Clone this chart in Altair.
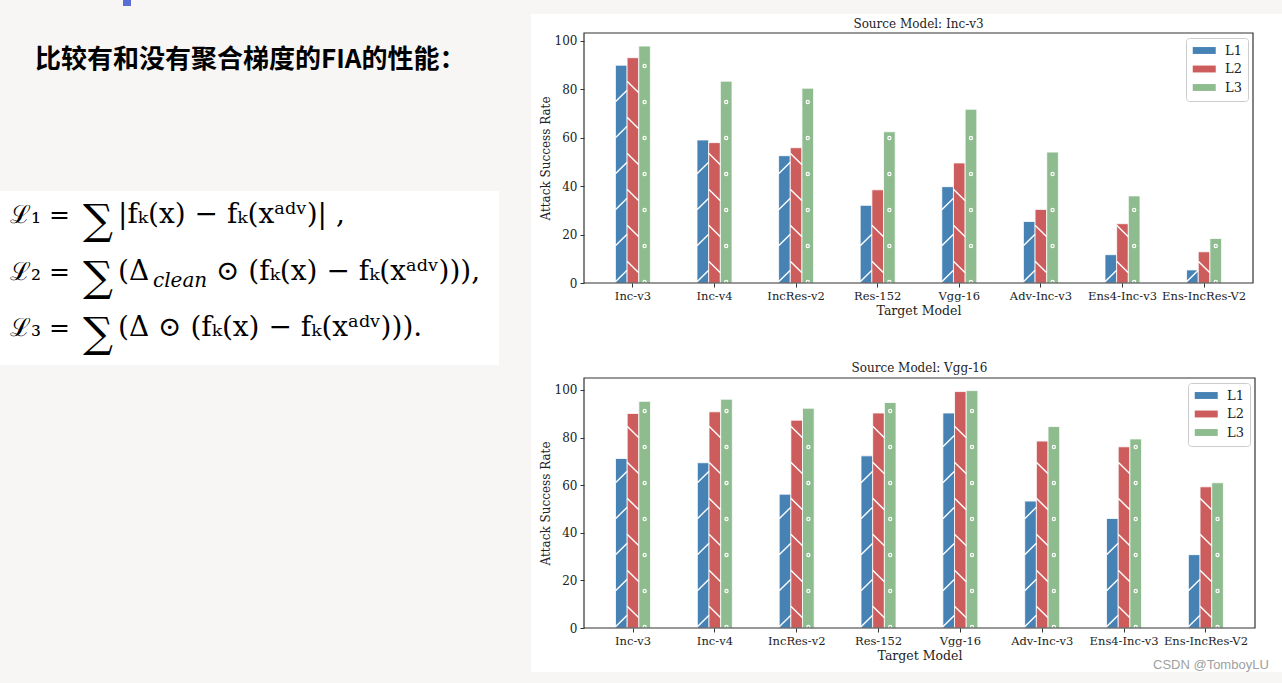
import altair as alt
import pandas as pd

# ---------------- data ----------------
targets = ["Inc-v3", "Inc-v4", "IncRes-v2", "Res-152", "Vgg-16",
           "Adv-Inc-v3", "Ens4-Inc-v3", "Ens-IncRes-V2"]
losses = ["L1", "L2", "L3"]

inc_l1 = [90.0, 59.1, 52.6, 32.1, 39.8, 25.4, 11.7, 5.4]
inc_l2 = [93.1, 58.0, 55.9, 38.5, 49.6, 30.4, 24.5, 12.9]
inc_l3 = [97.9, 83.4, 80.5, 62.5, 71.8, 54.1, 36.0, 18.4]

vgg_l1 = [71.2, 69.4, 56.2, 72.3, 90.3, 53.3, 46.0, 30.8]
vgg_l2 = [90.1, 90.8, 87.3, 90.3, 99.3, 78.5, 76.1, 59.3]
vgg_l3 = [95.2, 96.1, 92.3, 94.7, 99.7, 84.6, 79.4, 61.0]

y_ticks = [0, 20, 40, 60, 80, 100]
colors = ["#4682b4", "#cd5c5c", "#8fbc8f"]

titles = ["Source Model: Inc-v3", "Source Model: Vgg-16"]
heading = "比较有和没有聚合梯度的FIA的性能："
formula_lhs = ["ℒ₁ =", "ℒ₂ =", "ℒ₃ ="]
formula_sum = "∑"
formula_rhs = ["|fₖ(x)  −  fₖ(xᵃᵈᵛ)| ,", "(Δ", "(Δ ⊙ (fₖ(x)  −  fₖ(xᵃᵈᵛ)))."]
formula2_sub = "clean"
formula2_tail = "⊙ (fₖ(x)  −  fₖ(xᵃᵈᵛ))),"
watermark = "CSDN @TomboyLU"

BG = "#f7f6f4"
SERIF = "DejaVu Serif"
one = pd.DataFrame({"k": [0]})


def txt(s, x, y, size, font=SERIF, weight="normal", color="#000000",
        baseline="alphabetic", align="left", style="normal"):
    return alt.Chart(one).mark_text(
        text=s, font=font, fontSize=size, fontWeight=weight, color=color,
        baseline=baseline, align=align, fontStyle=style
    ).encode(x=alt.value(x), y=alt.value(y))


def box(x, x2, y, y2, color):
    return alt.Chart(one).mark_rect(color=color, strokeWidth=0).encode(
        x=alt.value(x), x2=alt.value(x2), y=alt.value(y), y2=alt.value(y2))


# ---------------- left-side content (page coords -> top plot coords) ----------------
OX, OY = 584, 33


def left_layers():
    L = lambda v: v - OX
    T = lambda v: v - OY
    lay = [
        box(L(123), L(131), T(0), T(6), "#5a6fd6"),
        txt(heading, L(35), T(60), 26, font="Noto Sans CJK SC", weight="bold",
            baseline="middle"),
        box(L(0), L(499), T(191), T(365), "#ffffff"),
    ]
    baselines = [223, 280, 336]
    for i in range(3):
        yb = baselines[i]
        lay.append(txt(formula_lhs[i], L(10), T(yb), 25))
        lay.append(txt(formula_sum, L(83), T(yb + 11), 42))
        lay.append(txt(formula_rhs[i], L(118), T(yb), 28))
    lay.append(txt(formula2_sub, L(153), T(baselines[1] + 7), 20, style="italic"))
    lay.append(txt(formula2_tail, L(216), T(baselines[1]), 28))
    return lay


# ---------------- bar panels ----------------
def hatch_rows(vals, loss, step, phase, half):
    rows = []
    for t, v in zip(targets, vals):
        y = phase
        while y + half <= v:
            rows.append({"Target": t, "Loss": loss, "Value": y})
            y += step
    return pd.DataFrame(rows)


def panel(title, l1, l2, l3, ymax, w, h, pre, post, title_y):
    rows = []
    for t, a, b, c in zip(targets, l1, l2, l3):
        rows += [{"Target": t, "Loss": "L1", "Value": a},
                 {"Target": t, "Loss": "L2", "Value": b},
                 {"Target": t, "Loss": "L3", "Value": c}]
    df = pd.DataFrame(rows)
    upx = ymax / h
    step = 36 * upx

    x_enc = alt.X("Target:N", scale=alt.Scale(domain=targets, paddingInner=0.571,
                                              paddingOuter=0.385),
                  axis=alt.Axis(title="Target Model", labelAngle=0, labelOverlap=False,
                                labelFont=SERIF, labelFontSize=11.5, labelColor="#222222",
                                titleFont=SERIF, titleFontSize=12.5,
                                titleFontWeight="normal", titleColor="#222222",
                                tickSize=4, tickColor="#333333", domain=False,
                                grid=False, labelPadding=3, titlePadding=3, zindex=1))
    y_enc = alt.Y("Value:Q", scale=alt.Scale(domain=[0, ymax], nice=False),
                  axis=alt.Axis(title="Attack Success Rate", values=y_ticks,
                                labelFont=SERIF, labelFontSize=12, labelColor="#222222",
                                titleFont=SERIF, titleFontSize=12,
                                titleFontWeight="normal", titleColor="#222222",
                                tickSize=4, tickColor="#333333", domain=False,
                                grid=False, labelPadding=3, titlePadding=2, zindex=1))
    xo = alt.XOffset("Loss:N", scale=alt.Scale(domain=losses, paddingInner=0,
                                                 paddingOuter=0))

    layers = list(pre)
    layers.append(txt(title, w / 2, title_y, 12, color="#222222", align="center",
                      baseline="middle"))
    bars = alt.Chart(df).mark_bar(stroke="white", strokeWidth=0.8).encode(
        x=x_enc, xOffset=xo, y=y_enc,
        color=alt.Color("Loss:N", scale=alt.Scale(domain=losses, range=colors),
                        legend=alt.Legend(
                            title=None, orient="top-right", offset=5,
                            fillColor="white", strokeColor="#cccccc",
                            cornerRadius=3, padding=6,
                            symbolType="M -1 -0.6 L 3 -0.6 L 3 0.6 L -1 0.6 Z",
                            symbolSize=132, symbolStrokeWidth=0, symbolOpacity=1,
                            labelFont=SERIF, labelFontSize=13,
                            labelColor="#222222", labelOffset=20, rowPadding=4.5)))
    layers.append(bars)

    h1 = hatch_rows(l1, "L1", step, 7 * upx, 2.4)
    h2 = hatch_rows(l2, "L2", step, 16 * upx, 2.4)
    h3 = hatch_rows(l3, "L3", step, 1 * upx, 1.2)

    layers.append(alt.Chart(h1).mark_point(
        shape="M -1 1 L 1 -1", size=137, stroke="white", strokeWidth=1.4,
        filled=False, opacity=1).encode(x=x_enc, xOffset=xo, y=y_enc))
    layers.append(alt.Chart(h2).mark_point(
        shape="M -1 -1 L 1 1", size=137, stroke="white", strokeWidth=1.4,
        filled=False, opacity=1).encode(x=x_enc, xOffset=xo, y=y_enc))
    layers.append(alt.Chart(h3).mark_point(
        shape="circle", size=10, stroke="white", strokeWidth=1.2,
        filled=False, opacity=1).encode(x=x_enc, xOffset=xo, y=y_enc))

    layers.append(alt.Chart(one).mark_rect(filled=False, stroke="#333333",
                                           strokeWidth=1.2).encode(
        x=alt.value(0), x2=alt.value(w), y=alt.value(0), y2=alt.value(h)))
    layers += list(post)

    return alt.layer(*layers).properties(
        width=w, height=h, view=alt.ViewBackground(strokeWidth=0))


# top panel: page rows 0..336 (+ formula box down to 365)
top_pre = [box(-584, 698, -33, 303, BG), box(-53, 698, -19, 307, "#ffffff")] + left_layers()
top = panel(titles[0], inc_l1, inc_l2, inc_l3, 103.3, 669, 250,
            top_pre, [], -9)

# bottom panel: page rows 336..683, plot origin aligned at x=584
bot_pre = [box(-584, -583, 304, 305, BG), box(-53, 698, -42, 294, "#ffffff")]
bot_post = [txt(watermark, 569, 291, 13, font="Liberation Sans", color="#a0a0a0")]
bottom = panel(titles[1], vgg_l1, vgg_l2, vgg_l3, 105.0, 671, 250,
               bot_pre, bot_post, -10)

chart = alt.vconcat(top, bottom, spacing=-29).resolve_scale(
    color="independent").resolve_legend(color="independent").properties(
    padding=0, background=BG
).configure_view(strokeWidth=0)

chart.save("out.html", embed_options={"renderer": "svg", "actions": False})
